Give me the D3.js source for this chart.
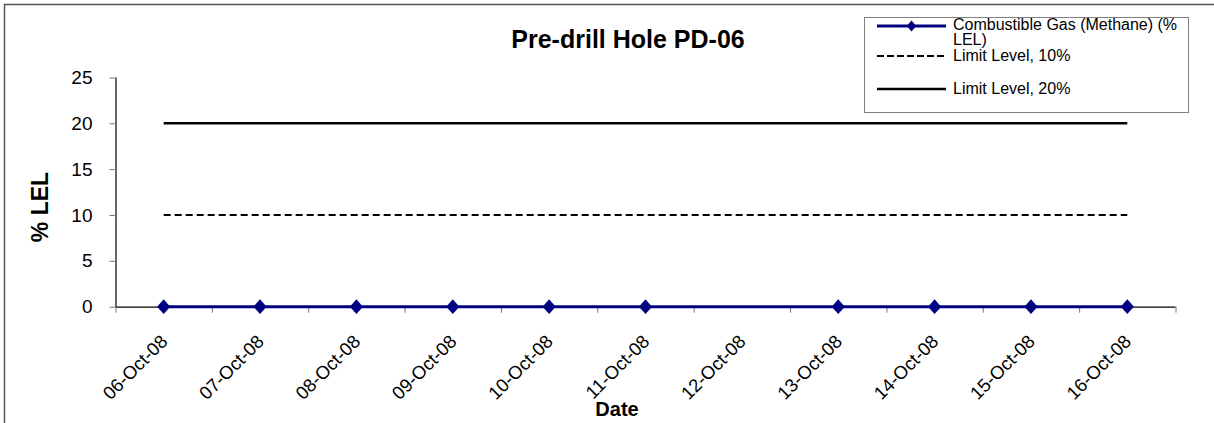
<!DOCTYPE html>
<html>
<head>
<meta charset="utf-8">
<script src="https://cdn.jsdelivr.net/npm/d3@7"></script>
<style>
  html, body { margin: 0; padding: 0; background: #fff; }
  svg { display: block; font-family: "Liberation Sans", Arial, sans-serif; }
</style>
</head>
<body>
<svg id="chart" width="1214" height="423"></svg>
<script>
// Sampling dates (category axis)
const dates = ["06-Oct-08", "07-Oct-08", "08-Oct-08", "09-Oct-08", "10-Oct-08",
               "11-Oct-08", "12-Oct-08", "13-Oct-08", "14-Oct-08", "15-Oct-08", "16-Oct-08"];
// Combustible gas readings (% LEL); no reading on 12-Oct-08
const methane = [0, 0, 0, 0, 0, 0, null, 0, 0, 0, 0];
// Regulatory limit levels (% LEL)
const limit10 = [10, 10, 10, 10, 10, 10, 10, 10, 10, 10, 10];
const limit20 = [20, 20, 20, 20, 20, 20, 20, 20, 20, 20, 20];
const yTicks = [0, 5, 10, 15, 20, 25];

const titleText = "Pre-drill Hole PD-06";
const legendLabels = ["Combustible Gas (Methane) (%", "LEL)", "Limit Level, 10%", "Limit Level, 20%"];

const svg = d3.select("#chart");

// Outer chart frame
svg.append("rect")
  .attr("x", 4.5).attr("y", 4.5).attr("width", 1214).attr("height", 430)
  .attr("fill", "none").attr("stroke", "#555").attr("stroke-width", 1.5);

const plot = { left: 115.5, right: 1175.5, top: 77.5, bottom: 306.7 };

const x = d3.scaleBand().domain(dates).range([plot.left, plot.right]).padding(0);
const xc = d => x(d) + x.bandwidth() / 2;
const y = d3.scaleLinear().domain([0, 25]).range([plot.bottom, plot.top]);

// Y axis
const yAxis = svg.append("g")
  .attr("transform", `translate(${plot.left},0)`)
  .call(d3.axisLeft(y).tickValues(yTicks).tickSize(6).tickPadding(17));
yAxis.select(".domain").attr("stroke", "#000").attr("stroke-width", 1.2)
  .attr("d", `M0.5,${plot.top}V${plot.bottom}`);
yAxis.selectAll(".tick line").attr("stroke", "#777");
yAxis.selectAll(".tick text")
  .attr("font-size", 19).attr("fill", "#000")
  .attr("font-family", "Liberation Sans, Arial, sans-serif");

// X axis: tick marks at category boundaries
const boundary = d3.scaleLinear().domain([0, dates.length]).range([plot.left, plot.right]);
const xTickAxis = svg.append("g")
  .attr("transform", `translate(0,${plot.bottom})`)
  .call(d3.axisBottom(boundary).tickValues(d3.range(dates.length + 1)).tickSize(6).tickFormat(""));
xTickAxis.select(".domain").attr("stroke", "#000").attr("stroke-width", 1.2)
  .attr("d", `M${plot.left},0.5H${plot.right}`);
xTickAxis.selectAll(".tick line").attr("stroke", "#777");

// X axis: rotated date labels centred on each category
const xLabels = svg.append("g")
  .attr("transform", `translate(0,${plot.bottom})`)
  .call(d3.axisBottom(x).tickSize(0).tickPadding(0));
xLabels.select(".domain").remove();
xLabels.selectAll(".tick text")
  .attr("font-size", 18.5).attr("fill", "#000")
  .attr("font-family", "Liberation Sans, Arial, sans-serif")
  .attr("text-anchor", "end")
  .attr("dy", null).attr("y", 0)
  .attr("transform", "translate(5,36) rotate(-45)");

// Limit lines
const line = d3.line().x((d, i) => xc(dates[i])).y(d => y(d));
svg.append("path").datum(limit20)
  .attr("d", line).attr("fill", "none").attr("stroke", "#000").attr("stroke-width", 2.5);
svg.append("path").datum(limit10)
  .attr("d", line).attr("fill", "none").attr("stroke", "#000").attr("stroke-width", 2.2)
  .attr("stroke-dasharray", "7,4");

// Methane series: line bridges the missing reading
const navy = "#000080";
const mPts = methane.map((v, i) => ({ d: dates[i], v })).filter(p => p.v !== null);
svg.append("path").datum(mPts)
  .attr("d", d3.line().x(p => xc(p.d)).y(p => y(p.v)))
  .attr("fill", "none").attr("stroke", navy).attr("stroke-width", 3);
const diamond = d3.symbol().type(d3.symbolDiamond2).size(110);
svg.append("g").selectAll("path").data(mPts).join("path")
  .attr("d", diamond)
  .attr("transform", p => `translate(${xc(p.d)},${y(p.v)}) scale(1,1.12)`)
  .attr("fill", navy);

// Title
svg.append("text")
  .attr("x", 628).attr("y", 48).attr("text-anchor", "middle")
  .attr("font-size", 25).attr("font-weight", "bold").text(titleText);

// Axis titles
svg.append("text")
  .attr("transform", "translate(48,207) rotate(-90)")
  .attr("text-anchor", "middle").attr("font-size", 23).attr("font-weight", "bold")
  .text("% LEL");
svg.append("text")
  .attr("x", 617).attr("y", 416).attr("text-anchor", "middle")
  .attr("font-size", 20).attr("font-weight", "bold").text("Date");

// Legend
const lg = svg.append("g");
lg.append("rect").attr("x", 864.5).attr("y", 17.5).attr("width", 324).attr("height", 95)
  .attr("fill", "#fff").attr("stroke", "#808080").attr("stroke-width", 1);
const lx0 = 877, lx1 = 946, tx = 953;
lg.append("line").attr("x1", lx0).attr("x2", lx1).attr("y1", 26).attr("y2", 26)
  .attr("stroke", navy).attr("stroke-width", 3);
lg.append("path").attr("d", diamond)
  .attr("transform", `translate(${(lx0 + lx1) / 2},26) scale(0.72,0.82)`).attr("fill", navy);
lg.append("line").attr("x1", lx0).attr("x2", lx1).attr("y1", 56).attr("y2", 56)
  .attr("stroke", "#000").attr("stroke-width", 2.2).attr("stroke-dasharray", "7,3");
lg.append("line").attr("x1", lx0).attr("x2", lx1).attr("y1", 89).attr("y2", 89)
  .attr("stroke", "#000").attr("stroke-width", 2.5);
const lt = (txt, yy) => lg.append("text").attr("x", tx).attr("y", yy)
  .attr("font-size", 16).attr("fill", "#000").text(txt);
lt(legendLabels[0], 30);
lt(legendLabels[1], 45);
lt(legendLabels[2], 61);
lt(legendLabels[3], 94);
</script>
</body>
</html>
